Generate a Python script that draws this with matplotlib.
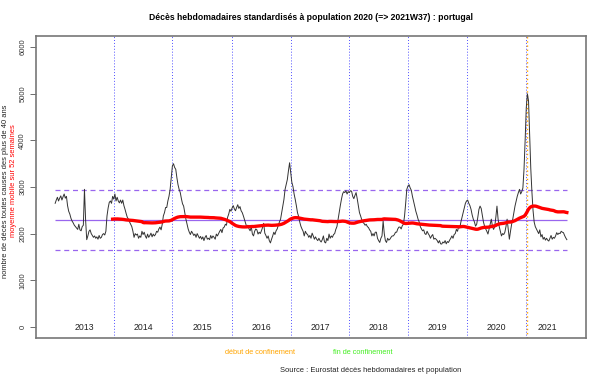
import numpy as np
import pandas as pd
import matplotlib
matplotlib.use("Agg")
import matplotlib.pyplot as plt

plt.rcParams['font.family'] = ['Liberation Sans', 'DejaVu Sans']

# weekly deaths (standardised), one list per year
d2013 = [2650, 2720, 2780, 2700, 2760, 2810, 2720, 2790, 2850, 2760,
         2800, 2600, 2480, 2420, 2330, 2270, 2230, 2180, 2150, 2120,
         2090, 2200, 2080, 2060, 2150, 2180, 2950, 2300, 1870, 1950,
         2050, 2080, 2000, 1960, 1920, 1950, 1900, 1930, 1880, 1960,
         1900, 1920, 1980, 2000, 1970, 2050, 2380, 2550, 2670, 2700,
         2650, 2800]
d2014 = [2740, 2850, 2700, 2780, 2700, 2660, 2720, 2650, 2720, 2600,
         2520, 2430, 2350, 2310, 2250, 2200, 2150, 2050, 1920, 2000,
         1970, 1990, 1900, 1950, 1920, 2050, 1980, 2030, 1950, 1900,
         1990, 1920, 1960, 2010, 1930, 1990, 1950, 1980, 2050, 2030,
         2100, 2140, 2080, 2200, 2380, 2450, 2560, 2560, 2700, 2800,
         2950, 3200]
d2015 = [3450, 3500, 3420, 3380, 3200, 3050, 2950, 2880, 2750, 2640,
         2590, 2450, 2310, 2200, 2100, 2030, 1980, 2050, 2010, 1960,
         1990, 1920, 2000, 1950, 1900, 1940, 1880, 1930, 1850, 1920,
         1960, 1880, 1900, 1870, 1960, 1900, 1950, 1920, 1880, 1990,
         1950, 2000, 2050, 2090, 2020, 2120, 2140, 2200, 2180, 2350,
         2420, 2520, 2480]
d2016 = [2550, 2600, 2530, 2490, 2560, 2620, 2540, 2580, 2490, 2450,
         2380, 2300, 2220, 2140, 2180, 2100, 2060, 2150, 1990, 1950,
         2050, 2100, 2080, 1990, 2030, 2000, 2060, 2130, 2220, 2010,
         1960, 1900, 1950, 1850, 1800, 1880, 1950, 2030, 1980, 2060,
         2100, 2180, 2250, 2310, 2450, 2600, 2735, 2950, 3050, 3160,
         3350, 3520]
d2017 = [3300, 3100, 3010, 2850, 2735, 2600, 2450, 2370, 2250, 2160,
         2100, 2050, 1950, 2050, 2000, 1980, 1920, 1960, 1900, 2010,
         1950, 1880, 1930, 1880, 1850, 1900, 1850, 1820, 1870, 1950,
         1820, 1800, 1900, 1850, 1990, 1900, 1950, 1920, 1980, 2000,
         2090, 2150, 2300, 2450, 2600, 2735, 2850, 2900, 2880, 2920,
         2850, 2900]
d2018 = [2880, 2920, 2910, 2800, 2750, 2820, 2880, 2750, 2600, 2450,
         2380, 2300, 2240, 2220, 2180, 2200, 2150, 2130, 2080, 2050,
         1950, 2000, 1950, 2030, 2030, 1900, 1850, 1810, 1900, 1950,
         2270, 2000, 1850, 1810, 1900, 1860, 1880, 1920, 1950, 1950,
         1980, 2030, 2030, 2100, 2140, 2140, 2100, 2170, 2200, 2380,
         2650, 2950]
d2019 = [3020, 3050, 2980, 2930, 2800, 2700, 2590, 2480, 2400, 2310,
         2250, 2150, 2100, 2060, 2080, 2000, 1980, 2050, 2000, 1960,
         1900, 1950, 1980, 1880, 1900, 1880, 1850, 1800, 1850, 1780,
         1775, 1820, 1800, 1850, 1780, 1830, 1810, 1860, 1900, 1950,
         1900, 1980, 2000, 2090, 2050, 2150, 2120, 2250, 2350, 2450,
         2550, 2650]
d2020 = [2700, 2720, 2650, 2600, 2520, 2400, 2310, 2250, 2160, 2200,
         2350, 2520, 2590, 2540, 2400, 2250, 2160, 2100, 2050, 1990,
         2100, 2200, 2310, 2150, 2090, 2150, 2350, 2590, 2310, 2150,
         2050, 1950, 2000, 1980, 2030, 2150, 2310, 2100, 1880, 2050,
         2200, 2310, 2450, 2590, 2700, 2800, 2880, 2950, 2850, 2900,
         2980, 3380, 4000]
d2021 = [4700, 5000, 4850, 4100, 3400, 2900, 2500, 2250, 2150, 2100,
         2050, 2000, 2080, 1930, 1980, 1880, 1920, 1860, 1900, 1860,
         1840, 1900, 1960, 1880, 1920, 1900, 1950, 2020, 1980, 2010,
         2000, 2050, 2030, 2020, 1960, 1910, 1870]

years = [2013, 2014, 2015, 2016, 2017, 2018, 2019, 2020, 2021]
by_year = [d2013, d2014, d2015, d2016, d2017, d2018, d2019, d2020, d2021]

moyenne = 2286
seuil_haut = 2927
seuil_bas = 1650
debut_confinement = 418.3  # week index (2021W01)

deces = pd.Series(np.concatenate(by_year).astype(float))
mobile = deces.rolling(52).mean()
semaines = np.arange(len(deces))

starts = np.cumsum([0] + [len(y) for y in by_year])

fig = plt.figure(figsize=(6.05, 3.84), dpi=100)
ax = fig.add_axes([36 / 605, 1 - 338 / 384, 550 / 605, 302 / 384])

for s in starts[1:-1]:
    ax.axvline(s, color='#5050ff', linestyle=(0, (1, 2)), lw=0.7)
ax.axvline(debut_confinement, color='orange', linestyle=(0, (1, 2)), lw=1.0)

ax.hlines(moyenne, 0, semaines[-1], color='#9966ee', lw=0.9)
ax.hlines([seuil_haut, seuil_bas], 0, semaines[-1], color='#9966ee', lw=0.9,
          linestyles=[(0, (4, 3))])

ax.plot(semaines, deces, color='#333333', lw=0.7)
ax.plot(semaines, mobile, color='red', lw=2.4)

for yr, a, b in zip(years, starts[:-1], starts[1:]):
    ax.text((a + b) / 2, -20, str(yr), ha='center', va='center', fontsize=6.3, color='#222222')

ax.set_xlim(-17, 471)
ax.set_ylim(-240, 6240)
ax.set_xticks([])
ax.set_yticks(range(0, 6001, 1000))
ax.tick_params(axis='y', labelsize=5.5, length=4, width=0.6, color='#555555',
               labelcolor='#333333', labelrotation=90, pad=3)
for lab in ax.get_yticklabels():
    lab.set_va('center')
for sp in ax.spines.values():
    sp.set_color('#777777')
    sp.set_linewidth(1.2)

fig.text(311 / 605, 1 - 18 / 384,
         'Décès hebdomadaires standardisés à population 2020 (=> 2021W37) : portugal',
         ha='center', va='center', fontsize=6.2, fontweight='bold')
fig.text(5.5 / 605, 1 - 191 / 384, 'nombre de décès toutes causes des plus de 40 ans',
         rotation=90, ha='center', va='center', fontsize=5.4, color='#222222')
fig.text(13.5 / 605, 1 - 181 / 384, 'moyenne mobile sur 52 semaines',
         rotation=90, ha='center', va='center', fontsize=5.4, color='red')
fig.text(260 / 605, 1 - 353 / 384, 'début de confinement', ha='center', va='center',
         fontsize=5.3, color='orange')
fig.text(363 / 605, 1 - 353 / 384, 'fin de confinement', ha='center', va='center',
         fontsize=5.3, color='#44ee22')
fig.text(371 / 605, 1 - 371 / 384, 'Source : Eurostat décès hebdomadaires et population',
         ha='center', va='center', fontsize=5.4, color='#222222')

fig.savefig('out.png', dpi=100)
